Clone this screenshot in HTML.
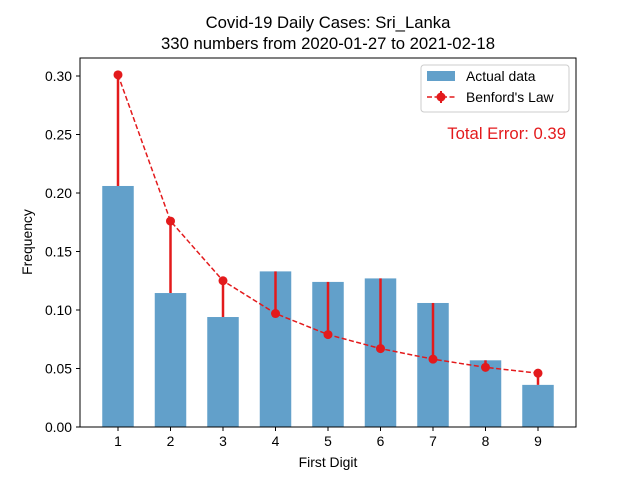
<!DOCTYPE html>
<html><head><meta charset="utf-8"><style>
body{margin:0;background:#fff}
text{font-family:"Liberation Sans","DejaVu Sans",sans-serif;fill:#000}
</style></head><body>
<svg id="chart" width="640" height="480" viewBox="0 0 640 480" xmlns="http://www.w3.org/2000/svg">
<rect width="640" height="480" fill="#fff"/>
<text x="328" y="28" font-size="16.7" text-anchor="middle">Covid-19 Daily Cases: Sri_Lanka</text>
<text x="328" y="49" font-size="16.7" text-anchor="middle">330 numbers from 2020-01-27 to 2021-02-18</text>
<g id="plot"></g>
<rect x="80" y="58" width="496" height="369" fill="none" stroke="#000" stroke-width="1"/>
<text x="328" y="467" font-size="13.9" text-anchor="middle">First Digit</text>
<text x="32" y="242" font-size="13.9" text-anchor="middle" transform="rotate(-90 32 242)">Frequency</text>
<g>
<rect x="421" y="65" width="148" height="47" rx="3" fill="#fff" stroke="#ccc"/>
<rect x="427" y="71" width="28" height="10" fill="#1f77b4" fill-opacity="0.7"/>
<text x="466" y="81" font-size="13.9">Actual data</text>
<line x1="427" y1="97" x2="455" y2="97" stroke="#e31a1c" stroke-width="1.5" stroke-dasharray="5,2.5"/>
<line x1="441" y1="91" x2="441" y2="103" stroke="#e31a1c" stroke-width="2"/>
<circle cx="441" cy="97" r="4.5" fill="#e31a1c"/>
<text x="466" y="102" font-size="13.9">Benford's Law</text>
</g>
<text x="566" y="139" font-size="16.7" text-anchor="end" style="fill:#e31a1c">Total Error: 0.39</text>
</svg>
<script>
const digits=[1,2,3,4,5,6,7,8,9];
const actual=[0.206,0.1145,0.094,0.133,0.124,0.127,0.106,0.057,0.036];
const benford=[0.301,0.176,0.125,0.097,0.079,0.067,0.058,0.051,0.046];
const yTicks=["0.00","0.05","0.10","0.15","0.20","0.25","0.30"];
const NS="http://www.w3.org/2000/svg";
const g=document.getElementById('plot');
const xs=d=>118+(d-1)*52.5;
const ys=v=>427-v*1170;
function mk(t,a){const e=document.createElementNS(NS,t);for(const k in a)e.setAttribute(k,a[k]);g.appendChild(e);return e;}
yTicks.forEach(t=>{const y=ys(parseFloat(t));
 const l=mk('line',{x1:76,x2:80,y1:y,y2:y,stroke:'#000'});
 
 
 const tx=mk('text',{x:72,y:y+5,'font-size':13.9,'text-anchor':'end'});tx.textContent=t;
 
 });
digits.forEach((d,i)=>{const x=xs(d);
 const b=mk('rect',{x:x-15.75,y:ys(actual[i]),width:31.5,height:427-ys(actual[i]),fill:'#1f77b4','fill-opacity':0.7});
 
 
 const l=mk('line',{x1:x,x2:x,y1:427,y2:431,stroke:'#000'});
 
 
 const tx=mk('text',{x:x,y:446,'font-size':13.9,'text-anchor':'middle'});tx.textContent=d;
 
 });
let p='';
digits.forEach((d,i)=>{p+=(i?'L':'M')+xs(d)+' '+ys(benford[i]);});
const path=mk('path',{d:p,fill:'none',stroke:'#e31a1c','stroke-width':1.5,'stroke-dasharray':'5,2.5'});


digits.forEach((d,i)=>{const x=xs(d);
 const e=mk('line',{x1:x,x2:x,y1:ys(benford[i]),y2:ys(actual[i]),stroke:'#e31a1c','stroke-width':2.5});
 
 
 const c=mk('circle',{cx:x,cy:ys(benford[i]),r:4.5,fill:'#e31a1c'});
 
 });
</script>
</body></html>
